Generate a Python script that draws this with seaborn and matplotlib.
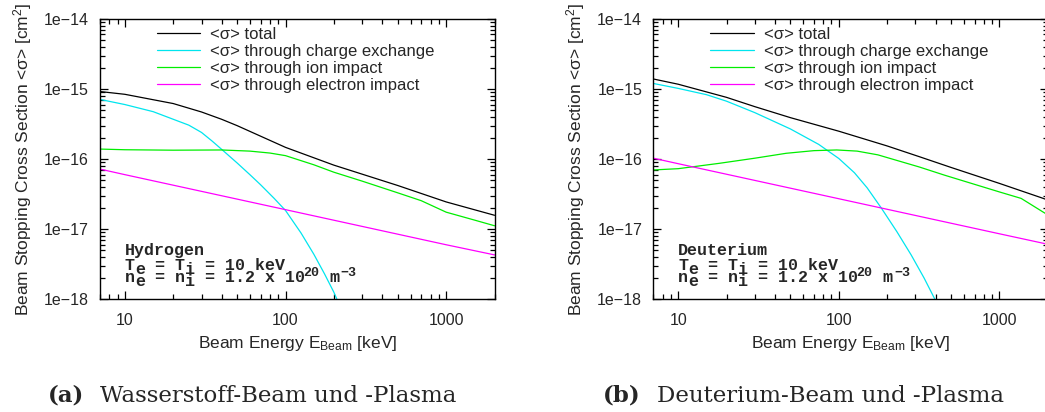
import numpy as np
import pandas as pd
import matplotlib
matplotlib.use("Agg")
import matplotlib.pyplot as plt
import matplotlib.ticker as mticker
from matplotlib.transforms import offset_copy
import seaborn as sns

# ---------------- data ----------------
# Hydrogen
E_H_tot = [7, 10, 20, 30, 40, 50, 100, 200, 500, 1000, 2000]
S_H_tot = [9.2e-16, 8.4e-16, 6.2e-16, 4.7e-16, 3.7e-16, 3.0e-16, 1.47e-16, 8.2e-17, 4.2e-17,
           2.45e-17, 1.58e-17]
E_H_cx = [7, 10, 15, 20, 25, 30, 35, 40, 50, 60, 70, 85, 100, 125, 150, 175, 200, 209, 230]
S_H_cx = [7.1e-16, 6.0e-16, 4.75e-16, 3.7e-16, 3.05e-16, 2.4e-16, 1.8e-16, 1.38e-16, 8.8e-17,
          6.0e-17, 4.3e-17, 2.75e-17, 1.85e-17, 8.8e-18, 4.4e-18, 2.3e-18, 1.26e-18, 1.0e-18, 6e-19]
E_H_ion = [7, 10, 20, 40, 60, 80, 100, 150, 200, 300, 500, 700, 1000, 1500, 2000]
S_H_ion = [1.39e-16, 1.36e-16, 1.34e-16, 1.35e-16, 1.3e-16, 1.22e-16, 1.12e-16, 8.3e-17, 6.5e-17,
           4.85e-17, 3.3e-17, 2.55e-17, 1.75e-17, 1.35e-17, 1.12e-17]
E_H_el = [7, 10, 100, 1000, 2000]
S_H_el = [7.2e-17, 6.0e-17, 1.9e-17, 6.0e-18, 4.3e-18]

# Deuterium
E_D_tot = [7, 10, 20, 30, 50, 100, 200, 318, 500, 1000, 1875, 2000]
S_D_tot = [1.39e-15, 1.17e-15, 7.6e-16, 5.6e-16, 3.9e-16, 2.5e-16, 1.54e-16, 1.08e-16, 7.6e-17,
           4.5e-17, 2.75e-17, 2.6e-17]
E_D_cx = [7, 10, 15, 20, 30, 50, 75, 100, 125, 150, 184, 230, 282, 340, 394, 430]
S_D_cx = [1.2e-15, 1.02e-15, 8.3e-16, 6.7e-16, 4.6e-16, 2.69e-16, 1.62e-16, 1.02e-16, 6.4e-17,
          3.9e-17, 2.0e-17, 9.2e-18, 4.3e-18, 2.0e-18, 1.03e-18, 6.6e-19]
E_D_ion = [7, 10, 18, 30, 47, 70, 97, 130, 175, 318, 455, 1000, 1365, 1875, 2000]
S_D_ion = [7.0e-17, 7.3e-17, 8.7e-17, 1.03e-16, 1.21e-16, 1.32e-16, 1.35e-16, 1.3e-16, 1.15e-16,
           7.7e-17, 5.9e-17, 3.4e-17, 2.75e-17, 1.75e-17, 1.6e-17]
E_D_el = [7, 10, 100, 1000, 2000]
S_D_el = [1.03e-16, 8.6e-17, 2.72e-17, 8.6e-18, 6.1e-18]

labels = ["<σ> total", "<σ> through charge exchange",
          "<σ> through ion impact", "<σ> through electron impact"]
colors = ["#000000", "#00E5EE", "#00EE00", "#FF00FF"]

x_ticks = [10, 100, 1000]
y_ticks = [1e-18, 1e-17, 1e-16, 1e-15, 1e-14]

species = ["Hydrogen", "Deuterium"]
captions_bold = ["(a)", "(b)"]
captions = ["Wasserstoff-Beam und -Plasma", "Deuterium-Beam und -Plasma"]

panels = [
    [(E_H_tot, S_H_tot), (E_H_cx, S_H_cx), (E_H_ion, S_H_ion), (E_H_el, S_H_el)],
    [(E_D_tot, S_D_tot), (E_D_cx, S_D_cx), (E_D_ion, S_D_ion), (E_D_el, S_D_el)],
]

# ---------------- style ----------------
sns.set_style("ticks")
plt.rcParams["font.family"] = ["Liberation Sans", "DejaVu Sans"]
plt.rcParams["axes.linewidth"] = 1.0
plt.rcParams["mathtext.fontset"] = "custom"
plt.rcParams["mathtext.rm"] = "Liberation Sans"
plt.rcParams["mathtext.it"] = "Liberation Sans:italic"
plt.rcParams["mathtext.bf"] = "Liberation Sans:bold"
plt.rcParams["mathtext.default"] = "regular"

W, H = 1045, 412
fig = plt.figure(figsize=(W / 100, H / 100), dpi=100)

ax_w = 394.5 / W
ax_h = 280.4 / H
ax_b = (H - 299.3) / H
lefts = [100 / W, 653.3 / W]
cap_bold_x = [48 / W, 603 / W]
cap_x = [100 / W, 657 / W]

MONO = ["Liberation Mono", "DejaVu Sans Mono"]
FS_MONO = 12.0
CW = 0.6 * FS_MONO  # monospace cell width in points


def yfmt(v, pos):
    e = int(round(np.log10(v)))
    return "1e" + ("−" if e < 0 else "") + str(abs(e))


def mono_text(ax, x, y, s, dx_pt=0.0, dy_pt=0.0, size=FS_MONO):
    tr = offset_copy(ax.transAxes, fig=fig, x=dx_pt, y=dy_pt, units="points")
    ax.text(x, y, s, transform=tr, family=MONO, weight="bold", fontsize=size,
            ha="left", va="baseline")


for i, ax_left in enumerate(lefts):
    ax = fig.add_axes([ax_left, ax_b, ax_w, ax_h])
    for (E, S), lab, col in zip(panels[i], labels, colors):
        df = pd.DataFrame({"E": E, "S": S})
        sns.lineplot(data=df, x="E", y="S", ax=ax, color=col, linewidth=0.9,
                     label=lab, estimator=None, sort=False)
    ax.set_xscale("log")
    ax.set_yscale("log")
    ax.set_xlim(7, 2000)
    ax.set_ylim(1e-18, 1e-14)
    ax.set_xticks(x_ticks)
    ax.set_yticks(y_ticks)
    ax.xaxis.set_major_formatter(mticker.FuncFormatter(lambda v, p: f"{int(round(v))}"))
    ax.yaxis.set_major_formatter(mticker.FuncFormatter(yfmt))
    ax.xaxis.set_minor_locator(mticker.LogLocator(base=10, subs=np.arange(2, 10)))
    ax.yaxis.set_minor_locator(mticker.LogLocator(base=10, subs=np.arange(2, 10), numticks=20))
    ax.xaxis.set_minor_formatter(mticker.NullFormatter())
    ax.yaxis.set_minor_formatter(mticker.NullFormatter())
    ax.tick_params(which="both", direction="in", top=True, right=True,
                   labelsize=11.5, width=0.9, color="black")
    ax.tick_params(which="major", length=6)
    ax.tick_params(which="minor", length=3.5)
    ax.tick_params(axis="y", which="major", pad=8)
    ax.tick_params(axis="x", which="major", pad=10)
    ax.set_xlabel("Beam Energy E$_{Beam}$ [keV]", fontsize=12.5, labelpad=4)
    ax.set_ylabel("Beam Stopping Cross Section <σ> [cm$^{2}$]", fontsize=12.5, labelpad=7)
    for sp in ax.spines.values():
        sp.set_visible(True)
        sp.set_color("black")

    ax.legend(loc="upper left", bbox_to_anchor=(0.1445, 0.972), frameon=False,
              fontsize=12, handlelength=2.6, handletextpad=0.6,
              labelspacing=0.12, borderpad=0, borderaxespad=0)

    # annotation block (monospace grid, sub/superscripts as shifted pieces)
    x0 = 0.063
    y1, y2, y3 = 0.157, 0.106, 0.061
    mono_text(ax, x0, y1, species[i])
    # line 2: T_e = T_i = 10 keV
    mono_text(ax, x0, y2, "T")
    mono_text(ax, x0, y2, "e", dx_pt=1 * CW, dy_pt=-3.0)
    mono_text(ax, x0, y2, "= T", dx_pt=3 * CW)
    mono_text(ax, x0, y2, "i", dx_pt=6 * CW, dy_pt=-3.0)
    mono_text(ax, x0, y2, "= 10 keV", dx_pt=8 * CW)
    # line 3: n_e = n_i = 1.2 x 10^20 m^-3
    mono_text(ax, x0, y3, "n")
    mono_text(ax, x0, y3, "e", dx_pt=1 * CW, dy_pt=-3.0)
    mono_text(ax, x0, y3, "= n", dx_pt=3 * CW)
    mono_text(ax, x0, y3, "i", dx_pt=6 * CW, dy_pt=-3.0)
    mono_text(ax, x0, y3, "= 1.2 x 10", dx_pt=8 * CW)
    mono_text(ax, x0, y3, "20", dx_pt=18 * CW - 1.5, dy_pt=4.2, size=9.5)
    mono_text(ax, x0, y3, "m", dx_pt=147.0)
    mono_text(ax, x0, y3, "−3", dx_pt=155.5, dy_pt=4.2, size=9.5)

    fig.text(cap_bold_x[i], (H - 401.7) / H, captions_bold[i], family="DejaVu Serif",
             weight="bold", fontsize=16.5, ha="left", va="baseline")
    fig.text(cap_x[i], (H - 401.7) / H, captions[i], family="DejaVu Serif",
             fontsize=16.5, ha="left", va="baseline")

fig.savefig("out.png", dpi=100)
